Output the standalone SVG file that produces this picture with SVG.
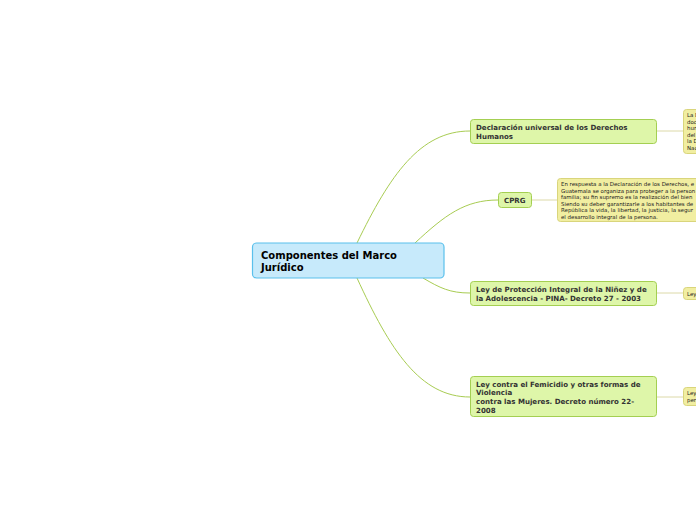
<svg xmlns="http://www.w3.org/2000/svg" width="696" height="520" viewBox="0 0 696 520">
<style>
.root rect{fill:#c7eafb;stroke:#5ac0ec;stroke-width:1.2}
.main rect{fill:#def6a9;stroke:#a4cf52;stroke-width:1}
.leaf rect{fill:#f1eea1;stroke:#d9d57c;stroke-width:1}
.rt{font-family:"DejaVu Sans",Verdana,sans-serif;font-weight:bold;font-size:10px;fill:#000}
.mt{font-family:"DejaVu Sans",Verdana,sans-serif;font-weight:bold;font-size:7.05px;fill:#333}
.lt{font-family:"DejaVu Sans",Verdana,sans-serif;font-size:5.45px;fill:#222}
.c path{fill:none;stroke:#a8cc52;stroke-width:1}
.c line{stroke:#dcd9a8;stroke-width:1}
</style>
<rect width="696" height="520" fill="#fff"/>
<g class="c" id="connectors">
<path d="M357,243 C390,175 420,131 470,131"/>
<path d="M415,243 C445,215 465,200 498,200"/>
<path d="M423,278 C440,288 450,293 470,293"/>
<path d="M357,278 C390,350 420,397 470,397"/>
<line x1="656" y1="131" x2="683" y2="131"/>
<line x1="531" y1="200" x2="557" y2="200"/>
<line x1="656" y1="293" x2="683" y2="293"/>
<line x1="656" y1="397" x2="683" y2="397"/>
</g>
<g class="root" id="n0">
<rect x="252.5" y="243" width="191.5" height="35" rx="4"/>
<text class="rt" x="261" y="259">Componentes del Marco</text>
<text class="rt" x="261" y="271">Jurídico</text>
</g>
<g class="main" id="n1">
<rect x="470.5" y="119.5" width="186" height="24" rx="3"/>
<text class="mt" x="476" y="130">Declaración universal de los Derechos</text>
<text class="mt" x="476" y="139">Humanos</text>
</g>
<g class="main" id="n2">
<rect x="498.5" y="192.5" width="33" height="15" rx="3"/>
<text class="mt" x="504" y="202.5">CPRG</text>
</g>
<g class="main" id="n3">
<rect x="470.5" y="281.5" width="186" height="24" rx="3"/>
<text class="mt" x="476" y="292">Ley de Protección Integral de la Niñez y de</text>
<text class="mt" x="476" y="301">la Adolescencia - PINA- Decreto 27 - 2003</text>
</g>
<g class="main" id="n4">
<rect x="470.5" y="376.5" width="186" height="40" rx="3"/>
<text class="mt" x="476" y="387">Ley contra el Femicidio y otras formas de</text>
<text class="mt" x="476" y="395">Violencia</text>
<text class="mt" x="476" y="404">contra las Mujeres. Decreto número 22-</text>
<text class="mt" x="476" y="413">2008</text>
</g>
<g class="leaf" id="l1">
<rect x="683.5" y="109.5" width="40" height="44" rx="3"/>
<text class="lt" x="687" y="117">La D</text>
<text class="lt" x="687" y="123.5">doc</text>
<text class="lt" x="687" y="130">hum</text>
<text class="lt" x="687" y="136.5">del</text>
<text class="lt" x="687" y="143">la D</text>
<text class="lt" x="687" y="149.5">Nac</text>
</g>
<g class="leaf" id="l2">
<rect x="557.5" y="178.5" width="160" height="43" rx="3"/>
<text class="lt" x="561" y="186">En respuesta a la Declaración de los Derechos, e</text>
<text class="lt" x="561" y="192.5">Guatemala se organiza para proteger a la person</text>
<text class="lt" x="561" y="199">familia; su fin supremo es la realización del bien</text>
<text class="lt" x="561" y="205.5">Siendo su deber garantizarle a los habitantes de</text>
<text class="lt" x="561" y="212">República la vida, la libertad, la justicia, la segur</text>
<text class="lt" x="561" y="218.5">el desarrollo integral de la persona.</text>
</g>
<g class="leaf" id="l3">
<rect x="683.5" y="287.5" width="40" height="12" rx="3"/>
<text class="lt" x="687" y="295.5">Ley</text>
</g>
<g class="leaf" id="l4">
<rect x="683.5" y="387.5" width="40" height="18" rx="3"/>
<text class="lt" x="687" y="395">Ley</text>
<text class="lt" x="687" y="401.5">per</text>
</g>
</svg>
